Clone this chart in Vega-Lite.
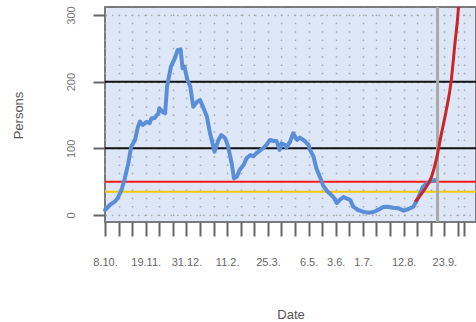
{
  "$schema": "https://vega.github.io/schema/vega-lite/v6.json",
  "width": 371,
  "height": 215,
  "autosize": {"type": "none"},
  "padding": {"left": 105, "top": 7, "right": 0, "bottom": 100},
  "background": "white",
  "config": {
    "view": {"fill": "#dde7f7", "stroke": "#7a7a7a", "strokeWidth": 2},
    "font": "Liberation Sans"
  },
  "datasets": {
    "cases": [
      {"date": "2020-10-08", "value": 7.5},
      {"date": "2020-10-13", "value": 15},
      {"date": "2020-10-18", "value": 20},
      {"date": "2020-10-21", "value": 25},
      {"date": "2020-10-25", "value": 37.5},
      {"date": "2020-10-28", "value": 52.5},
      {"date": "2020-11-01", "value": 77.5},
      {"date": "2020-11-04", "value": 102.5},
      {"date": "2020-11-08", "value": 112.5},
      {"date": "2020-11-11", "value": 132.5},
      {"date": "2020-11-13", "value": 140},
      {"date": "2020-11-16", "value": 135},
      {"date": "2020-11-20", "value": 140},
      {"date": "2020-11-23", "value": 137.5},
      {"date": "2020-11-25", "value": 145},
      {"date": "2020-11-28", "value": 145},
      {"date": "2020-12-02", "value": 152.5},
      {"date": "2020-12-03", "value": 160},
      {"date": "2020-12-06", "value": 155},
      {"date": "2020-12-09", "value": 152.5},
      {"date": "2020-12-11", "value": 192.5},
      {"date": "2020-12-12", "value": 200},
      {"date": "2020-12-15", "value": 222.5},
      {"date": "2020-12-19", "value": 235},
      {"date": "2020-12-22", "value": 247.5},
      {"date": "2020-12-25", "value": 248.5},
      {"date": "2020-12-27", "value": 220},
      {"date": "2020-12-29", "value": 222.5},
      {"date": "2021-01-01", "value": 202.5},
      {"date": "2021-01-04", "value": 192.5},
      {"date": "2021-01-07", "value": 162.5},
      {"date": "2021-01-11", "value": 170},
      {"date": "2021-01-14", "value": 172.5},
      {"date": "2021-01-17", "value": 162.5},
      {"date": "2021-01-21", "value": 148},
      {"date": "2021-01-24", "value": 125},
      {"date": "2021-01-28", "value": 101},
      {"date": "2021-01-29", "value": 95},
      {"date": "2021-02-02", "value": 112.5},
      {"date": "2021-02-05", "value": 120},
      {"date": "2021-02-09", "value": 115},
      {"date": "2021-02-12", "value": 102.5},
      {"date": "2021-02-16", "value": 75},
      {"date": "2021-02-18", "value": 55},
      {"date": "2021-02-21", "value": 57.5},
      {"date": "2021-02-24", "value": 68},
      {"date": "2021-02-28", "value": 75},
      {"date": "2021-03-03", "value": 85},
      {"date": "2021-03-07", "value": 90},
      {"date": "2021-03-10", "value": 88},
      {"date": "2021-03-13", "value": 92.5},
      {"date": "2021-03-17", "value": 97},
      {"date": "2021-03-20", "value": 100},
      {"date": "2021-03-24", "value": 106},
      {"date": "2021-03-27", "value": 112.5},
      {"date": "2021-03-31", "value": 111},
      {"date": "2021-04-03", "value": 111},
      {"date": "2021-04-06", "value": 97.5},
      {"date": "2021-04-08", "value": 107.5},
      {"date": "2021-04-12", "value": 105},
      {"date": "2021-04-13", "value": 101},
      {"date": "2021-04-17", "value": 110},
      {"date": "2021-04-20", "value": 122.5},
      {"date": "2021-04-24", "value": 112.5},
      {"date": "2021-04-27", "value": 116},
      {"date": "2021-05-02", "value": 111},
      {"date": "2021-05-06", "value": 105},
      {"date": "2021-05-07", "value": 99},
      {"date": "2021-05-11", "value": 88},
      {"date": "2021-05-14", "value": 70},
      {"date": "2021-05-18", "value": 56},
      {"date": "2021-05-21", "value": 44},
      {"date": "2021-05-25", "value": 36},
      {"date": "2021-05-28", "value": 32},
      {"date": "2021-06-01", "value": 26},
      {"date": "2021-06-04", "value": 18},
      {"date": "2021-06-07", "value": 22.5},
      {"date": "2021-06-11", "value": 27},
      {"date": "2021-06-14", "value": 25},
      {"date": "2021-06-18", "value": 22.5},
      {"date": "2021-06-21", "value": 12.5},
      {"date": "2021-06-26", "value": 7.5},
      {"date": "2021-07-01", "value": 5},
      {"date": "2021-07-07", "value": 3.5},
      {"date": "2021-07-12", "value": 4.5},
      {"date": "2021-07-17", "value": 8},
      {"date": "2021-07-22", "value": 12},
      {"date": "2021-07-27", "value": 12.5},
      {"date": "2021-08-01", "value": 11},
      {"date": "2021-08-07", "value": 10},
      {"date": "2021-08-12", "value": 6.5},
      {"date": "2021-08-17", "value": 9},
      {"date": "2021-08-20", "value": 11},
      {"date": "2021-08-22", "value": 12.5},
      {"date": "2021-08-26", "value": 22.5},
      {"date": "2021-08-29", "value": 32.5},
      {"date": "2021-09-01", "value": 42.5},
      {"date": "2021-09-05", "value": 47.5},
      {"date": "2021-09-08", "value": 50},
      {"date": "2021-09-13", "value": 52.5}
    ],
    "forecast": [
      {"date": "2021-08-24", "value": 20},
      {"date": "2021-09-01", "value": 35},
      {"date": "2021-09-10", "value": 58},
      {"date": "2021-09-15", "value": 85},
      {"date": "2021-09-20", "value": 122},
      {"date": "2021-09-25", "value": 157},
      {"date": "2021-09-30", "value": 200},
      {"date": "2021-10-04", "value": 258},
      {"date": "2021-10-07", "value": 300},
      {"date": "2021-10-08", "value": 320},
      {"date": "2021-10-09", "value": 345}
    ],
    "hlines": [
      {"value": 200, "kind": "a"},
      {"value": 100, "kind": "a"},
      {"value": 50, "kind": "b"},
      {"value": 35, "kind": "c"}
    ],
    "vline": [
      {"date": "2021-09-16"}
    ]
  },
  "layer": [
    {
      "data": {"name": "hlines"},
      "mark": {"type": "rule", "strokeWidth": 2},
      "encoding": {
        "y": {"field": "value", "type": "quantitative", "title": "Persons"},
        "color": {
          "field": "kind", "type": "nominal", "legend": null,
          "scale": {"domain": ["a", "b", "c"], "range": ["#111111", "#ff1a1a", "#f2c80f"]}
        }
      }
    },
    {
      "data": {"name": "vline"},
      "mark": {"type": "rule", "strokeWidth": 3, "color": "#aaaaaa"},
      "encoding": {
        "x": {"field": "date", "type": "temporal", "title": "Date"}
      }
    },
    {
      "data": {"name": "cases"},
      "mark": {"type": "line", "strokeWidth": 4, "color": "#5b8ed8", "strokeCap": "round", "strokeJoin": "round"},
      "encoding": {
        "x": {
          "field": "date", "type": "temporal", "title": "Date",
          "scale": {"type": "utc", "domain": [{"year": 2020, "month": 10, "date": 8, "utc": true}, {"year": 2021, "month": 10, "date": 25, "hours": 16, "utc": true}]},
          "axis": {
            "values": [
              {"year": 2020, "month": 10, "date": 8, "utc": true},
              {"year": 2020, "month": 10, "date": 22, "utc": true},
              {"year": 2020, "month": 11, "date": 5, "utc": true},
              {"year": 2020, "month": 11, "date": 19, "utc": true},
              {"year": 2020, "month": 12, "date": 3, "utc": true},
              {"year": 2020, "month": 12, "date": 17, "utc": true},
              {"year": 2020, "month": 12, "date": 31, "utc": true},
              {"year": 2021, "month": 1, "date": 14, "utc": true},
              {"year": 2021, "month": 1, "date": 28, "utc": true},
              {"year": 2021, "month": 2, "date": 11, "utc": true},
              {"year": 2021, "month": 2, "date": 25, "utc": true},
              {"year": 2021, "month": 3, "date": 11, "utc": true},
              {"year": 2021, "month": 3, "date": 25, "utc": true},
              {"year": 2021, "month": 4, "date": 8, "utc": true},
              {"year": 2021, "month": 4, "date": 22, "utc": true},
              {"year": 2021, "month": 5, "date": 6, "utc": true},
              {"year": 2021, "month": 5, "date": 20, "utc": true},
              {"year": 2021, "month": 6, "date": 3, "utc": true},
              {"year": 2021, "month": 6, "date": 17, "utc": true},
              {"year": 2021, "month": 7, "date": 1, "utc": true},
              {"year": 2021, "month": 7, "date": 15, "utc": true},
              {"year": 2021, "month": 7, "date": 29, "utc": true},
              {"year": 2021, "month": 8, "date": 12, "utc": true},
              {"year": 2021, "month": 8, "date": 26, "utc": true},
              {"year": 2021, "month": 9, "date": 9, "utc": true},
              {"year": 2021, "month": 9, "date": 23, "utc": true},
              {"year": 2021, "month": 10, "date": 7, "utc": true},
              {"year": 2021, "month": 10, "date": 13, "utc": true}
            ],
            "tickCount": 100,
            "format": "%-d.%-m.",
            "labelExpr": "indexof(['8.10.','19.11.','31.12.','11.2.','25.3.','6.5.','3.6.','1.7.','12.8.','23.9.'], datum.label) >= 0 ? datum.label : ''",
            "labelOverlap": false,
            "labelFlush": false,
            "labelFontSize": 11,
            "labelColor": "#666666",
            "labelPadding": 20,
            "tickSize": 14,
            "tickWidth": 2,
            "tickColor": "#666666",
            "domain": false,
            "grid": true,
            "gridColor": "#a8a8a8",
            "gridWidth": 1.5,
            "gridDash": [1.5, 6.83],
            "gridDashOffset": 1.3,
            "titleFontSize": 13,
            "titleFontWeight": "normal",
            "titleColor": "#555555",
            "titleX": 185.5,
            "titleY": 92,
            "titleAlign": "center",
            "titleBaseline": "middle"
          }
        },
        "y": {
          "field": "value", "type": "quantitative", "title": "Persons",
          "scale": {"domain": [-10.5, 312], "nice": false, "zero": false},
          "axis": {
            "values": [0, 50, 100, 150, 200, 250, 300],
            "labelAngle": -90,
            "labelAlign": "center",
            "labelBaseline": "middle",
            "labelFontSize": 11,
            "labelColor": "#777777",
            "labelPadding": 22,
            "tickSize": 12,
            "tickWidth": 2,
            "tickColor": "#666666",
            "domain": false,
            "grid": true,
            "gridColor": "#a8a8a8",
            "gridWidth": 1.5,
            "gridDash": [1.5, 5],
            "titleFontSize": 13,
            "titleFontWeight": "normal",
            "titleColor": "#555555",
            "titleAngle": -90,
            "titleX": -87,
            "titleY": 108,
            "titleAlign": "center",
            "titleBaseline": "middle"
          }
        }
      }
    },
    {
      "data": {"name": "forecast"},
      "mark": {"type": "line", "strokeWidth": 3, "color": "#cc2525", "clip": true, "interpolate": "monotone"},
      "encoding": {
        "x": {"field": "date", "type": "temporal", "title": "Date"},
        "y": {"field": "value", "type": "quantitative", "title": "Persons"}
      }
    }
  ]
}
